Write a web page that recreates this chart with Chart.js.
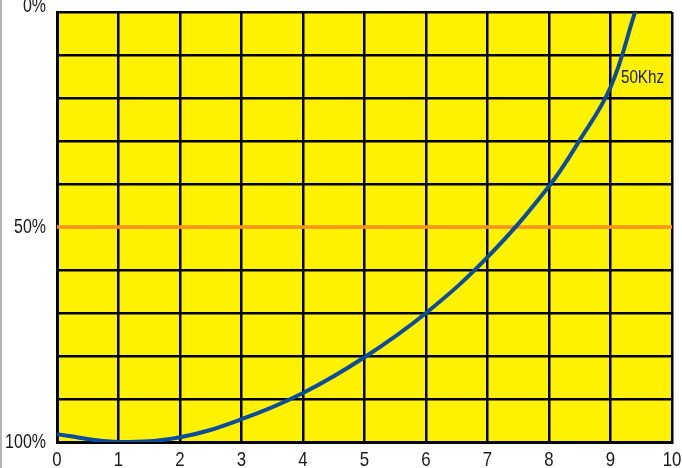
<!DOCTYPE html>
<html>
<head>
<meta charset="utf-8">
<script src="https://cdn.jsdelivr.net/npm/chart.js@4/dist/chart.umd.min.js"></script>
<style>
  html, body { margin: 0; padding: 0; background: #fff; }
  #wrap { position: relative; width: 682px; height: 468px; }
  #edge { position: absolute; left: 0; top: 0; width: 2px; height: 468px; background: #b4b4b4; }
  canvas { display: block; }
</style>
</head>
<body>
<div id="wrap">
  <canvas id="c" width="682" height="468"></canvas>
  <div id="edge"></div>
</div>
<script>
// ---- data ----
const curveX = [0, 1, 2, 3, 4, 5, 6, 7, 8, 8.5, 9, 9.4];
const curveY = [98.2, 100, 98.9, 94.7, 88.6, 80.3, 70, 57, 40.5, 29.8, 17.5, 0];
const refX = [0, 10];
const refY = [50, 50];
const xTickValues = [0, 1, 2, 3, 4, 5, 6, 7, 8, 9, 10];
const xTickLabels = ['0', '1', '2', '3', '4', '5', '6', '7', '8', '9', '10'];
const yTickValues = [0, 50, 100];
const yTickLabels = ['0%', '50%', '100%'];
const seriesLabel = '50Khz';
const seriesLabelAt = { x: 9.17, y: 15.3 };

const FONT = "'Liberation Sans', Arial, sans-serif";
const NARROW = 0.8;   // condensed look of the original typeface
const TEXT = '#1a1a1a';

function narrowText(ctx, text, x, y, align) {
  const w = ctx.measureText(text).width * NARROW;
  let left = x;
  if (align === 'right') left = x - w;
  else if (align === 'center') left = x - w / 2;
  ctx.save();
  ctx.translate(left, y);
  ctx.scale(NARROW, 1);
  ctx.textAlign = 'left';
  ctx.fillText(text, 0, 0);
  ctx.restore();
}

const bgPlugin = {
  id: 'plotBg',
  beforeDraw(chart) {
    const { ctx, chartArea: a } = chart;
    ctx.save();
    ctx.fillStyle = '#fff200';
    ctx.fillRect(a.left, a.top, a.right - a.left, a.bottom - a.top);
    ctx.restore();
  }
};

const textPlugin = {
  id: 'texts',
  afterDraw(chart) {
    const { ctx, scales, chartArea: a } = chart;
    ctx.save();
    ctx.fillStyle = TEXT;
    // x tick labels
    ctx.font = '21px ' + FONT;
    ctx.textBaseline = 'alphabetic';
    xTickValues.forEach((v, i) => {
      narrowText(ctx, xTickLabels[i], scales.x.getPixelForValue(v), a.bottom + 24, 'center');
    });
    // y tick labels (top one sits above its tick, as in the original)
    ctx.font = '20px ' + FONT;
    yTickValues.forEach((v, i) => {
      const py = scales.y.getPixelForValue(v);
      ctx.textBaseline = (i === 0) ? 'bottom' : 'middle';
      narrowText(ctx, yTickLabels[i], a.left - 11, (i === 0) ? py + 4 : py, 'right');
    });
    // series label
    ctx.font = '19px ' + FONT;
    ctx.textBaseline = 'middle';
    narrowText(ctx, seriesLabel, scales.x.getPixelForValue(seriesLabelAt.x), scales.y.getPixelForValue(seriesLabelAt.y), 'left');
    ctx.restore();
  }
};

new Chart(document.getElementById('c'), {
  type: 'line',
  data: {
    datasets: [
      {
        data: refX.map((x, i) => ({ x, y: refY[i] })),
        borderColor: '#f7941d',
        borderWidth: 3.5,
        pointRadius: 0,
        tension: 0,
        order: 2
      },
      {
        data: curveX.map((x, i) => ({ x, y: curveY[i] })),
        borderColor: '#0a4d9e',
        borderWidth: 4,
        pointRadius: 0,
        tension: 0.4,
        order: 1
      }
    ]
  },
  options: {
    responsive: false,
    animation: false,
    devicePixelRatio: 1,
    layout: { padding: { top: 12, right: 10, left: 0, bottom: 0 } },
    plugins: { legend: { display: false }, tooltip: { enabled: false } },
    scales: {
      x: {
        type: 'linear',
        min: 0, max: 10,
        ticks: { stepSize: 1, display: false },
        grid: { color: '#000', lineWidth: 2.5, drawTicks: false },
        border: { color: '#000', width: 3 },
        afterFit(s) { s.height = 26; }
      },
      y: {
        type: 'linear',
        reverse: true,
        min: 0, max: 100,
        ticks: { stepSize: 10, display: false },
        grid: {
          color: c => (c.tick && c.tick.value === 50 ? '#f7941d' : '#000'),
          lineWidth: 2.5,
          drawTicks: false
        },
        border: { color: '#000', width: 3 },
        afterFit(s) { s.width = 57; }
      }
    }
  },
  plugins: [bgPlugin, textPlugin]
});
</script>
</body>
</html>
